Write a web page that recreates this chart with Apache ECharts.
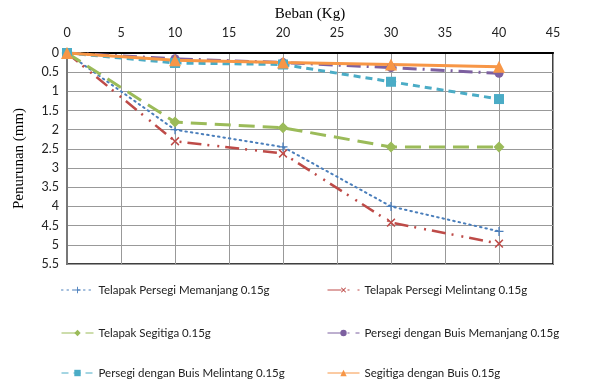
<!DOCTYPE html>
<html>
<head>
<meta charset="utf-8">
<script src="https://cdn.jsdelivr.net/npm/echarts@6/dist/echarts.min.js"></script>
<style>
html,body{margin:0;padding:0;background:#fff;}
#chart{width:598px;height:381px;}
</style>
</head>
<body>
<div id="chart"></div>
<script>
var beban = [0, 10, 20, 30, 40];
var persegiMemanjang = [0, 2.0, 2.45, 4.0, 4.65];
var persegiMelintang = [0, 2.3, 2.62, 4.42, 4.97];
var segitiga = [0, 1.8, 1.95, 2.45, 2.45];
var buisMemanjang = [0, 0.15, 0.25, 0.38, 0.53];
var buisMelintang = [0, 0.26, 0.3, 0.75, 1.2];
var segitigaBuis = [0, 0.19, 0.25, 0.3, 0.36];
var names = ['Telapak Persegi Memanjang 0.15g', 'Telapak Persegi Melintang 0.15g', 'Telapak Segitiga 0.15g',
	'Persegi dengan Buis Memanjang 0.15g', 'Persegi dengan Buis Melintang 0.15g', 'Segitiga dengan Buis 0.15g'];

function pairs(arr){
	var out = [];
	for (var i = 0; i < beban.length; i++) out.push([beban[i], arr[i]]);
	return out;
}

var plusPath = 'path://M4.3,0H5.7V4.3H10V5.7H5.7V10H4.3V5.7H0V4.3H4.3Z';
var lbl = {fontFamily: 'Lato', fontSize: 12.5, color: '#222'};

var legendPos = [
	[56, 279], [322, 279],
	[56, 322], [322, 322],
	[56, 362], [322, 362]
];
var legends = [];
for (var i = 0; i < names.length; i++) {
	legends.push({
		data: [names[i]], left: legendPos[i][0], top: legendPos[i][1],
		itemWidth: 32, itemHeight: 8, itemGap: 4,
		lineStyle: {width: 1},
		textStyle: {fontFamily: 'Lato', fontSize: 11.5, color: '#222'}
	});
}

var option = {
	animation: false,
	legend: legends,
	grid: {left: 67, right: 45, top: 53, bottom: 117, outerBoundsMode: 'none',
		show: true, borderColor: '#000', borderWidth: 1.5},
	xAxis: {
		type: 'value', position: 'top', min: 0, max: 45, interval: 5,
		name: 'Beban (Kg)', nameLocation: 'middle', nameGap: 30,
		nameTextStyle: {fontFamily: 'Liberation Serif', fontSize: 15, color: '#000'},
		axisLine: {show: true, lineStyle: {color: '#000', width: 2}},
		axisTick: {show: false},
		axisLabel: Object.assign({margin: 14}, lbl),
		splitLine: {show: true, lineStyle: {color: '#999', width: 1}}
	},
	yAxis: {
		type: 'value', inverse: true, min: 0, max: 5.5, interval: 0.5,
		name: 'Penurunan (mm)', nameLocation: 'middle', nameGap: 40,
		nameTextStyle: {fontFamily: 'Liberation Serif', fontSize: 15, color: '#000'},
		axisLine: {show: true, lineStyle: {color: '#777', width: 2}},
		axisTick: {show: false},
		axisLabel: Object.assign({margin: 8}, lbl),
		splitLine: {show: true, lineStyle: {color: '#999', width: 1}}
	},
	series: [
		{name: names[0], type: 'line', data: pairs(persegiMemanjang), symbol: plusPath, symbolSize: 9,
			itemStyle: {color: '#4a7ebb'}, lineStyle: {color: '#4a7ebb', width: 2, type: [1.5, 4], cap: 'round'}},
		{name: names[1], type: 'line', data: pairs(persegiMelintang), symbol: plusPath, symbolRotate: 45, symbolSize: 11,
			itemStyle: {color: '#be4b48'}, lineStyle: {color: '#be4b48', width: 2.5, type: [14, 6, 2, 8, 2, 6]}},
		{name: names[2], type: 'line', data: pairs(segitiga), symbol: 'diamond', symbolSize: 11,
			itemStyle: {color: '#9bbb59'}, lineStyle: {color: '#9bbb59', width: 3, type: [16, 8]}},
		{name: names[3], type: 'line', data: pairs(buisMemanjang), symbol: 'circle', symbolSize: 9,
			itemStyle: {color: '#7d60a0'}, lineStyle: {color: '#7d60a0', width: 3, type: [14, 6, 2, 6]}},
		{name: names[4], type: 'line', data: pairs(buisMelintang), symbol: 'rect', symbolSize: 10,
			itemStyle: {color: '#4bacc6'}, lineStyle: {color: '#4bacc6', width: 3, type: [7, 5]}},
		{name: names[5], type: 'line', data: pairs(segitigaBuis), symbol: 'triangle', symbolSize: 12,
			itemStyle: {color: '#f79646'}, lineStyle: {color: '#f79646', width: 3, type: 'solid'}}
	]
};

var mychart = echarts.init(document.getElementById('chart'));
mychart.setOption(option);
</script>
</body>
</html>
